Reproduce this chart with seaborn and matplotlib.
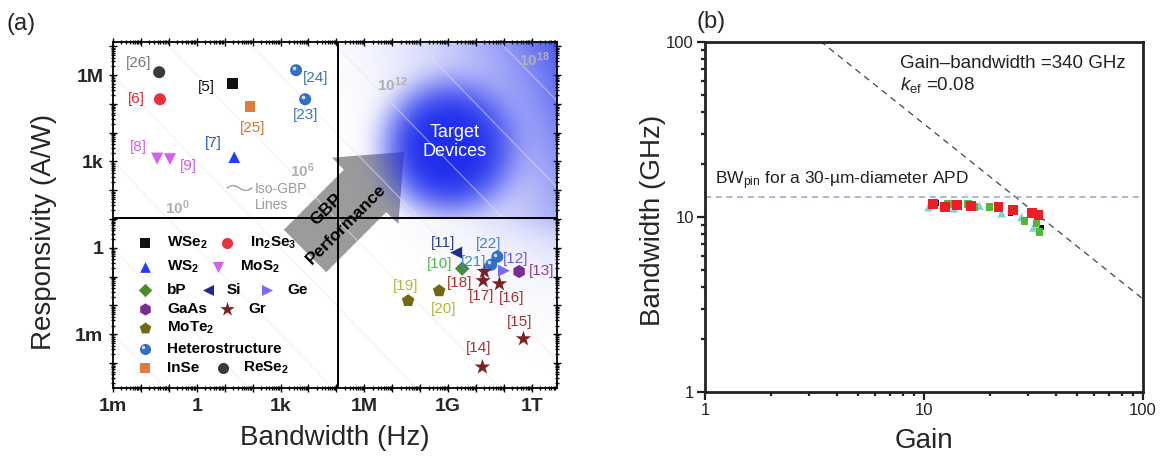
import numpy as np
import pandas as pd
import matplotlib
matplotlib.use("Agg")
import matplotlib.pyplot as plt
import seaborn as sns
from matplotlib.patches import Polygon
from matplotlib.transforms import IdentityTransform, offset_copy
from matplotlib.ticker import LogLocator, NullFormatter

# ---------------- panel (a): photodetector responsivity vs bandwidth ----------------
materials = ["WSe2", "In2Se3", "WS2", "MoS2", "bP", "Si", "Ge", "GaAs", "Gr",
             "MoTe2", "Heterostructure", "InSe", "ReSe2"]
material_labels = [r"$\mathbf{WSe_2}$", r"$\mathbf{In_2Se_3}$", r"$\mathbf{WS_2}$",
                   r"$\mathbf{MoS_2}$", "bP", "Si", "Ge", "GaAs", "Gr",
                   r"$\mathbf{MoTe_2}$", "Heterostructure", "InSe", r"$\mathbf{ReSe_2}$"]
material_markers = ["s", "o", "^", "v", "D", "<", ">", "h", "*", "p", "o", "s", "o"]
material_colors = ["#111111", "#e8323c", "#1f3cff", "#d460f0", "#4a8c2a", "#1c2e8c",
                   "#7a6cf2", "#7b2d96", "#7d2020", "#6f6a10", "#2f6fc4", "#e07b39",
                   "#3a3a3a"]
material_sizes = [60, 75, 70, 75, 55, 75, 75, 90, 140, 90, 75, 60, 75]

refs = ["[26]", "[6]", "[5]", "[24]", "[23]", "[25]", "[7]", "[8]", "[9]", "[11]",
        "[10]", "[22]", "[21]", "[12]", "[13]", "[18]", "[17]", "[16]", "[15]",
        "[14]", "[19]", "[20]"]
ref_material = ["ReSe2", "In2Se3", "WSe2", "Heterostructure", "Heterostructure", "InSe",
                "WS2", "MoS2", "MoS2", "Si", "bP", "Heterostructure", "Heterostructure",
                "Ge", "GaAs", "Gr", "Gr", "Gr", "Gr", "Gr", "MoTe2", "MoTe2"]
bandwidth_hz = [0.045, 0.048, 18.6, 3.6e3, 7.6e3, 81, 22, 0.038, 0.11, 1.95e9,
                3.2e9, 5.8e10, 3.5e10, 1.0e11, 3.5e11, 2.0e10, 1.8e10, 6.9e10,
                5.0e11, 1.7e10, 3.7e7, 4.8e8]
responsivity = [1.26e6, 1.45e5, 5.2e5, 1.48e6, 1.45e5, 8.3e4, 1.4e3, 1.26e3, 1.2e3,
                0.68, 0.19, 0.49, 0.26, 0.16, 0.15, 0.15, 0.072, 0.056, 6.9e-4,
                7.2e-5, 0.0145, 0.032]
ref_colors = ["#777777", "#d42a3a", "#111111", "#3b73c4", "#3b73c4", "#d9772e",
              "#3050c8", "#d35ef0", "#d35ef0", "#2a3d8f", "#4fb848", "#3d86d6",
              "#3d86d6", "#6a5fd8", "#8e3fa0", "#a83232", "#a83232", "#a83232",
              "#a83232", "#a83232", "#b5b83a", "#b5b83a"]
# label offsets from each point, in pixels (x right, y up)
ref_dx = [-21, -24, -26, 20, 0, 3, -21, -19, 18, -13, -23, -9, -18, 12, 22, -25, -2,
          12, -4, -4, -2, 4]
ref_dy = [9, 0, -4, -8, -16, -22, 14, 12, -7, 10, 5, 13, 3, 12, 1, -11, -15, -14, 17,
          19, 15, -18]

x_label_exps = [-3, 0, 3, 6, 9, 12]
x_labels = ["1m", "1", "1k", "1M", "1G", "1T"]
y_label_exps = [-3, 0, 3, 6]
y_labels = ["1m", "1", "1k", "1M"]

gbp_line_exps = [-6, -3, 0, 3, 6, 9, 12, 15, 18, 21]
gbp_label_texts = [r"$\mathbf{10^{0}}$", r"$\mathbf{10^{6}}$", r"$\mathbf{10^{12}}$",
                   r"$\mathbf{10^{18}}$"]

divider_bw_exp = 5.06
divider_resp_exp = 1.05

# ---------------- panel (b): APD gain-bandwidth ----------------
gain_cyan = [10.5, 13.7, 17.9, 22.6, 27.9, 31.6]
bw_cyan = [11.4, 11.2, 11.6, 10.5, 10.0, 8.7]
gain_black = [11.4, 14.5, 24.8, 34.4]
bw_black = [12.0, 11.6, 10.5, 8.7]
gain_green = [12.9, 15.9, 17.0, 19.9, 28.8, 32.6, 33.7]
bw_green = [11.9, 11.9, 11.4, 11.4, 9.5, 9.2, 8.2]
gain_red = [11.0, 12.5, 14.2, 16.4, 21.9, 25.6, 31.0, 33.3]
bw_red = [11.9, 11.4, 11.7, 11.6, 11.4, 11.0, 10.5, 10.3]
gain_bandwidth_ghz = 340
bw_pin_ghz = 13

# ---------------- style ----------------
sns.set_theme(style="ticks")
plt.rcParams["font.family"] = ["Liberation Sans", "DejaVu Sans"]
plt.rcParams["mathtext.fontset"] = "custom"
plt.rcParams["mathtext.rm"] = "Liberation Sans"
plt.rcParams["mathtext.it"] = "Liberation Sans:italic"
plt.rcParams["mathtext.bf"] = "Liberation Sans:bold"

W, H = 1164, 457
fig = plt.figure(figsize=(W / 100, H / 100), dpi=100)


def rect(l, t, r, b):
    return [l / W, 1 - b / H, (r - l) / W, (b - t) / H]


ax = fig.add_axes(rect(113, 42, 557, 388))
ax2 = fig.add_axes(rect(705, 42, 1143, 392))

# ======================= panel (a) =======================
xlog = (-3.0, 12.9)
ylog = (-4.87, 7.15)
ax.set_xscale("log")
ax.set_yscale("log")
ax.set_xlim(10 ** xlog[0], 10 ** xlog[1])
ax.set_ylim(10 ** ylog[0], 10 ** ylog[1])
ax.set_autoscale_on(False)

# blue "target" shading: blob plus a ramp toward high GBP
lx = np.linspace(*xlog, 700)
ly = np.linspace(*ylog, 600)
LX, LY = np.meshgrid(lx, ly)
r = np.hypot((LX - 9.04) / 2.35, (LY - 3.49) / 2.3)
blob = np.exp(-r ** 4)
u = np.clip((LX - divider_bw_exp) / (xlog[1] - divider_bw_exp), 0, 1)
v = np.clip((LY - divider_resp_exp) / (ylog[1] - divider_resp_exp), 0, 1)
ramp = 0.8 * (0.75 * u + 0.25 * v) ** 2.5
upper = (LX >= divider_bw_exp) & (LY >= divider_resp_exp)
lower = (LX >= divider_bw_exp) & (LY < divider_resp_exp)
alpha = np.where(upper, 1 - (1 - blob) * (1 - ramp), 0.0)
tint = 0.35 * u ** 2.5 * np.exp(-(divider_resp_exp - LY) / 1.2)
alpha = np.where(lower, tint, alpha)
rgba = np.zeros(LX.shape + (4,))
rgba[..., 0], rgba[..., 1], rgba[..., 2] = 0.12, 0.18, 0.93
rgba[..., 3] = alpha
ax.imshow(rgba, extent=(0, 1, 0, 1), transform=ax.transAxes, origin="lower",
          aspect="auto", zorder=1, interpolation="bilinear")

# iso-GBP lines
xs = np.logspace(-3.5, 13.5, 60)
for k in gbp_line_exps:
    ax.plot(xs, 10.0 ** k / xs, color="#ebebeb", lw=0.8, zorder=0.5)
    ax.plot(xs, 10.0 ** k / xs, color="white", lw=1.0, alpha=0.4, zorder=1.5)
for txt, (fx, fy) in zip(gbp_label_texts, [(0.144, 0.52), (0.426, 0.627),
                                           (0.628, 0.876), (0.950, 0.948)]):
    ax.text(fx, fy, txt, transform=ax.transAxes, ha="center", va="center",
            fontsize=11, color="#b0b0b0", zorder=2)
wx = np.linspace(0.257, 0.313, 40)
ax.plot(wx, 0.578 + 0.007 * np.sin((wx - 0.257) / 0.056 * 2 * np.pi),
        transform=ax.transAxes, color="#a0a0a0", lw=1, zorder=2)
ax.text(0.320, 0.552, "Iso-GBP\nLines", transform=ax.transAxes, ha="left",
        va="center", fontsize=10, color="#9a9a9a", linespacing=1.25, zorder=2)

# quadrant dividers
ax.axvline(10 ** divider_bw_exp, color="black", lw=1.4, zorder=3)
ax.axhline(10 ** divider_resp_exp, color="black", lw=1.4, zorder=3)

# GBP performance arrow (screen pixels, y down)
tail = np.array([305.0, 251.0])
d = np.array([1.0, -1.0]) / np.sqrt(2)
p = np.array([1.0, 1.0]) / np.sqrt(2)
shaft_len, head_len, w_shaft, w_head = 85.0, 55.0, 30.0, 47.0
base = tail + d * shaft_len
tip = base + d * head_len
pts = [tail - w_shaft * p, base - w_shaft * p, base - w_head * p, tip,
       base + w_head * p, base + w_shaft * p, tail + w_shaft * p]
pts = [(q[0], H - q[1]) for q in pts]
ax.add_patch(Polygon(pts, closed=True, transform=IdentityTransform(),
                     facecolor="#9b9b9b", edgecolor="none", zorder=0.8))
fig.text(326 / W, 1 - 209 / H, "GBP", rotation=45, ha="center", va="center",
         fontsize=12.5, fontweight="bold", color="black", zorder=5)
fig.text(346 / W, 1 - 224 / H, "Performance", rotation=45, ha="center",
         va="center", fontsize=12.5, fontweight="bold", color="black", zorder=5)

ax.text(0.770, 0.711, "Target\nDevices", transform=ax.transAxes, ha="center",
        va="center", fontsize=13, color="white", linespacing=1.15, zorder=2)

# data points
df_a = pd.DataFrame({"ref": refs, "material": ref_material,
                     "bandwidth": bandwidth_hz, "responsivity": responsivity})
sns.scatterplot(data=df_a, x="bandwidth", y="responsivity", hue="material",
                style="material", size="material",
                palette=dict(zip(materials, material_colors)),
                markers=dict(zip(materials, material_markers)),
                sizes=dict(zip(materials, material_sizes)),
                linewidth=0, legend=False, ax=ax, zorder=4)
het = df_a[df_a["material"] == "Heterostructure"]
ax.scatter(het["bandwidth"], het["responsivity"], s=7, color="#e8f0ff", alpha=0.85,
           linewidths=0, zorder=5,
           transform=offset_copy(ax.transData, fig=fig, x=-2.2, y=2.2, units="dots"))
for i, row in df_a.iterrows():
    ax.annotate(row["ref"], (row["bandwidth"], row["responsivity"]),
                xytext=(ref_dx[i], ref_dy[i]), textcoords="offset pixels",
                ha="center", va="center", fontsize=11, color=ref_colors[i], zorder=5)

# in-plot material key
key_rows = [243, 267, 290, 309, 328, 349, 368]
key_layout = [("WSe2", 0, 145, 167), ("In2Se3", 0, 227, 250), ("WS2", 1, 145, 167),
              ("MoS2", 1, 218, 240), ("bP", 2, 145, 167), ("Si", 2, 208, 227),
              ("Ge", 2, 267, 287), ("GaAs", 3, 145, 167), ("Gr", 3, 227, 248),
              ("MoTe2", 4, 145, 167), ("Heterostructure", 5, 145, 167),
              ("InSe", 6, 145, 167), ("ReSe2", 6, 223, 243)]
for name, row_i, mx, tx in key_layout:
    j = materials.index(name)
    fy = 1 - (key_rows[row_i] - 42) / 346
    ax.scatter([(mx - 113) / 444], [fy], transform=ax.transAxes,
               marker=material_markers[j], color=material_colors[j],
               s=material_sizes[j] * 0.85, linewidths=0, zorder=5)
    if name == "Heterostructure":
        ax.scatter([(mx - 113) / 444], [fy], s=6, color="#e8f0ff", alpha=0.85,
                   linewidths=0, zorder=6,
                   transform=offset_copy(ax.transAxes, fig=fig, x=-2.0, y=2.0,
                                         units="dots"))
    ax.text((tx - 113) / 444, fy, material_labels[j], transform=ax.transAxes,
            ha="left", va="center", fontsize=11, fontweight="bold", color="black",
            zorder=5)

# axes (a) ticks
dec_x = np.arange(-3, 13)
dec_y = np.arange(-4, 8)
ax.set_xticks(10.0 ** dec_x, [dict(zip(x_label_exps, x_labels)).get(e, "") for e in dec_x],
              fontsize=14, fontweight="bold")
ax.set_yticks(10.0 ** dec_y, [dict(zip(y_label_exps, y_labels)).get(e, "") for e in dec_y],
              fontsize=14, fontweight="bold")
ax.xaxis.set_minor_locator(LogLocator(base=10, subs=np.arange(2, 10), numticks=200))
ax.yaxis.set_minor_locator(LogLocator(base=10, subs=np.arange(2, 10), numticks=200))
ax.xaxis.set_minor_formatter(NullFormatter())
ax.yaxis.set_minor_formatter(NullFormatter())
ax.tick_params(which="both", direction="inout", top=True, right=True, width=1.0,
               color="black")
ax.tick_params(which="major", length=6, pad=4)
ax.tick_params(which="minor", length=3)
for s in ax.spines.values():
    s.set_linewidth(1.3)
    s.set_color("black")
ax.set_xlabel("Bandwidth (Hz)", fontsize=20)
ax.set_ylabel("Responsivity (A/W)", fontsize=20)
ax.xaxis.set_label_coords(0.5, -0.107)
ax.yaxis.set_label_coords(-0.126, 0.451)

# ======================= panel (b) =======================
df_b = pd.concat([
    pd.DataFrame({"gain": gain_cyan, "bw": bw_cyan, "series": "cyan"}),
    pd.DataFrame({"gain": gain_black, "bw": bw_black, "series": "black"}),
    pd.DataFrame({"gain": gain_green, "bw": bw_green, "series": "green"}),
    pd.DataFrame({"gain": gain_red, "bw": bw_red, "series": "red"}),
], ignore_index=True)
ax2.set_xscale("log")
ax2.set_yscale("log")
ax2.set_xlim(1, 100)
ax2.set_ylim(1, 100)
ax2.set_autoscale_on(False)

g = np.logspace(0, 2, 200)
ax2.plot(g, gain_bandwidth_ghz / g, color="#444444", lw=0.9, ls=(0, (5, 4)), zorder=2)
ax2.axhline(bw_pin_ghz, color="#9aa0c4", lw=1.1, ls=(0, (4, 3)), zorder=2)

sns.scatterplot(data=df_b, x="gain", y="bw", hue="series", style="series",
                size="series",
                palette={"cyan": "#7fd0d8", "black": "#111111", "green": "#4dbb38",
                         "red": "#ee1c25"},
                markers={"cyan": "^", "black": "s", "green": "s", "red": "s"},
                sizes={"cyan": 38, "black": 16, "green": 30, "red": 50},
                linewidth=0, legend=False, ax=ax2, zorder=3)

ax2.text(0.445, 0.94, "Gain–bandwidth =340 GHz", transform=ax2.transAxes,
         ha="left", va="center", fontsize=13.5, color="#222222")
ax2.text(0.445, 0.877, r"$k_{\rm ef}$ =0.08", transform=ax2.transAxes,
         ha="left", va="center", fontsize=13.5, color="#222222")
ax2.text(0.023, 0.603, r"BW$_{\rm pin}$ for a 30-µm-diameter APD",
         transform=ax2.transAxes, ha="left", va="center", fontsize=12.5,
         color="#222222")

ax2.set_xticks([1, 10, 100], ["1", "10", "100"], fontsize=12)
ax2.set_yticks([1, 10, 100], ["1", "10", "100"], fontsize=12)
ax2.xaxis.set_minor_locator(LogLocator(base=10, subs=np.arange(2, 10), numticks=50))
ax2.yaxis.set_minor_locator(LogLocator(base=10, subs=np.arange(2, 10), numticks=50))
ax2.xaxis.set_minor_formatter(NullFormatter())
ax2.yaxis.set_minor_formatter(NullFormatter())
ax2.tick_params(which="both", direction="out", width=1.6, color="#222222",
                labelcolor="#222222")
ax2.tick_params(which="major", length=6, pad=2)
ax2.tick_params(which="minor", length=3)
for s in ax2.spines.values():
    s.set_linewidth(2)
    s.set_color("#222222")
ax2.set_xlabel("Gain", fontsize=20)
ax2.set_ylabel("Bandwidth (GHz)", fontsize=20)
ax2.xaxis.set_label_coords(0.5, -0.103)
ax2.yaxis.set_label_coords(-0.089, 0.491)

fig.text(7 / W, 1 - 24 / H, "(a)", fontsize=17, ha="left", va="center")
fig.text(696 / W, 1 - 22 / H, "(b)", fontsize=17, ha="left", va="center")

fig.savefig("out.png", dpi=100)
